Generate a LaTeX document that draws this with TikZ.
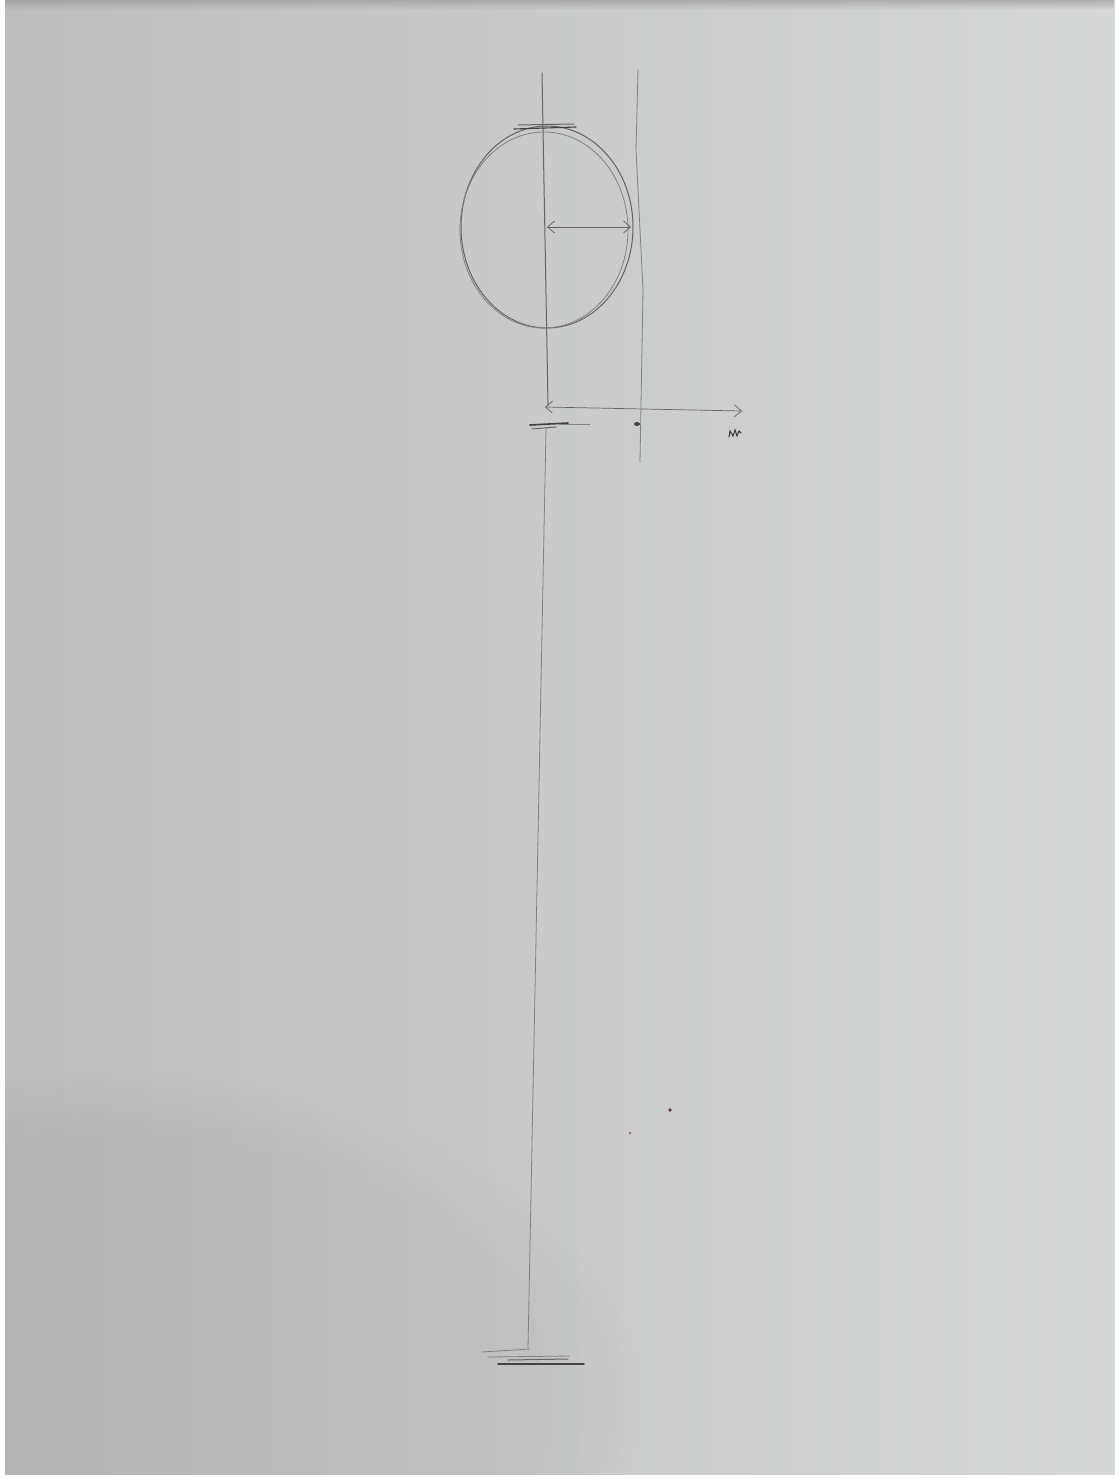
\documentclass[tikz,border=0pt]{standalone}
\usetikzlibrary{arrows.meta,fadings}
\definecolor{paperL}{RGB}{188,189,188}
\definecolor{paperR}{RGB}{214,216,215}
\definecolor{paperTop}{RGB}{150,150,148}
\definecolor{pencil}{RGB}{100,100,100}
\definecolor{pencilDark}{RGB}{65,65,65}
\definecolor{redspot}{RGB}{140,30,50}
\tikzset{
  pen/.style={draw=pencil, line width=1pt, line cap=round},
  penlight/.style={draw=pencil!75!paperR, line width=0.8pt, line cap=round},
  pendark/.style={draw=pencilDark, line width=1.6pt, line cap=round},
  sketcharrow/.style={pen, {Straight Barb[length=7pt,width=12pt]}-{Straight Barb[length=7pt,width=12pt]}},
}
\begin{document}
\begin{tikzpicture}[x=1pt,y=-1pt]
\useasboundingbox (0,0) rectangle (1115,1479);
% paper
\shade[left color=paperL, right color=paperR] (0,0) rectangle (1115,1479);
\fill[paperTop, path fading=south, fill opacity=0.6] (0,0) rectangle (1115,10);
\fill[black, fill opacity=0.04, path fading=circle with fuzzy edge 20 percent] (120,1400) ellipse [x radius=520, y radius=330];
\fill[white] (0,0) rectangle (5,1479);
\fill[white] (0,1475) rectangle (1115,1479);
% central axis
\coordinate (axT) at (542,73);
\coordinate (axM) at (548,405);
\coordinate (axB) at (528,1348);
\draw[pen] (axT) -- (axM);
\draw[penlight] (546,428) -- (axB);
% right tangent line
\coordinate (tgT) at (638,70);
\coordinate (tgB) at (640,462);
\draw[penlight] (tgT) -- (636,150) -- (643,290) -- (tgB);
% circle (double pencil strokes)
\coordinate (ctr) at (547,227);
\draw[pen] (ctr) ellipse [x radius=86, y radius=101];
\draw[penlight] (544,230) ellipse [x radius=84, y radius=98];
% top mark
\draw[pendark, line width=1.1pt] (514,129) -- (576,127);
\draw[pen] (518,125) -- (574,124);
% radius arrow
\coordinate (rad) at (631,227);
\draw[sketcharrow, line width=0.7pt] (ctr) -- (rad);
% lower arrow
\coordinate (laL) at (545,407);
\coordinate (laR) at (742,411);
\draw[sketcharrow, line width=0.7pt] (laL) -- (laR);
% marks under lower arrow
\draw[pendark] (530,425) -- (568,423);
\draw[pen] (532,429) -- (556,427);
\draw[penlight] (560,424) -- (590,424);
\fill[pencilDark] (637,424) ellipse [x radius=3, y radius=2];
\draw[pendark, line width=1.1pt] (729,437) -- (730,431) -- (733,436) -- (735,430) -- (737,436) -- (739,431) -- (741,433);
% base
\draw[penlight] (482,1352) -- (530,1349);
\draw[penlight] (488,1357) -- (570,1356);
\draw[pendark, line width=1.4pt] (498,1364) -- (584,1364);
\draw[pen] (508,1360) -- (568,1359);
% red spots
\fill[redspot] (670,1110) circle (1.8);
\fill[redspot!60!paperR] (630,1133) circle (1.4);
\end{tikzpicture}
\end{document}
